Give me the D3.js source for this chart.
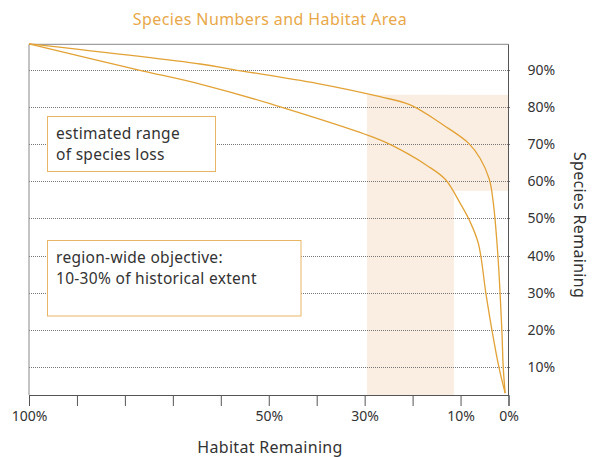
<!DOCTYPE html>
<html>
<head>
<meta charset="utf-8">
<script src="https://cdn.jsdelivr.net/npm/d3@7"></script>
<style>
  body { margin: 0; background: #fff; }
  svg { font-family: 'Noto Sans', 'Open Sans', sans-serif; }
</style>
</head>
<body>
<div class="js-chart"></div>
<script>
// habitat remaining (%) on x, species remaining (%) on y
var habitatTicks = [100, 90, 80, 70, 60, 50, 40, 30, 20, 10, 0];
var habitatLabels = ['100%', '', '', '', '', '50%', '', '30%', '', '10%', '0%'];
var speciesTicks = [10, 20, 30, 40, 50, 60, 70, 80, 90];

var upperHabitat = [100, 64.3, 57.4, 40.0, 26.8, 20.5, 13.6, 8.4, 5.9, 4.0, 3.2, 2.25, 1.4, 1.1, 0.7];
var upperSpecies = [96.9, 91.5, 90.0, 86.3, 82.7, 80.5, 75.1, 70.3, 66.1, 60.5, 54.5, 40.7, 20.3, 10, 3];

var lowerHabitat = [100, 77.5, 64.3, 49.4, 26.8, 20.5, 17.1, 13.2, 10.1, 8.2, 6.3, 4.7, 3.5, 2.0, 0.7];
var lowerSpecies = [96.9, 90.0, 86.1, 80.7, 71.1, 67.0, 64.3, 60.5, 54.1, 49.6, 43.3, 29.7, 20.3, 10, 3];

var objectiveRange = [29.5, 11.4]; // habitat
var lossRange = [57.4, 83.2];      // species

var chartTitle = 'Species Numbers and Habitat Area';
var xTitle = 'Habitat Remaining';
var yTitle = 'Species Remaining';
var notes = [
  ['estimated range', 'of species loss'],
  ['region-wide objective:', '10-30% of historical extent']
];

var orange = '#E2A236',
  band = '#FAEEE2',
  ink = '#333';

var width = 594, height = 457,
  plotLeft = 29, plotRight = 508.5, plotTop = 44.3, plotBottom = 395;

var x = d3.scaleLinear().domain([100, 0]).range([plotLeft, plotRight]);
var y = d3.scaleLinear().domain([2.5, 96.8]).range([plotBottom, plotTop]);

var svg = d3.select('.js-chart')
  .append('svg')
  .attr('width', width)
  .attr('height', height);

svg.append('text')
  .attr('x', 270)
  .attr('y', 25)
  .attr('text-anchor', 'middle')
  .attr('fill', '#E8A849')
  .style('font-size', '16px')
  .style('letter-spacing', '0.4px')
  .text(chartTitle);

// shaded regions
svg.append('rect')
  .attr('x', x(objectiveRange[0]))
  .attr('y', y(lossRange[1]))
  .attr('width', x(objectiveRange[1]) - x(objectiveRange[0]))
  .attr('height', plotBottom - y(lossRange[1]))
  .attr('fill', band);

svg.append('rect')
  .attr('x', x(objectiveRange[0]))
  .attr('y', y(lossRange[1]))
  .attr('width', x(0) - x(objectiveRange[0]))
  .attr('height', y(lossRange[0]) - y(lossRange[1]))
  .attr('fill', band);

// dotted grid
svg.selectAll('.grid')
  .data(speciesTicks)
  .enter()
  .append('line')
  .classed('grid', true)
  .attr('x1', plotLeft)
  .attr('x2', plotRight + 2)
  .attr('y1', function(d) { return Math.round(y(d)) + 0.5 })
  .attr('y2', function(d) { return Math.round(y(d)) + 0.5 })
  .attr('stroke', '#777')
  .attr('stroke-dasharray', '1,1');

// frame
svg.append('line')
  .attr('x1', plotLeft).attr('x2', plotRight)
  .attr('y1', plotTop).attr('y2', plotTop)
  .attr('stroke', '#888');
svg.append('line')
  .attr('x1', plotLeft).attr('x2', plotLeft)
  .attr('y1', plotTop).attr('y2', plotBottom)
  .attr('stroke', '#888');
svg.append('line')
  .attr('x1', plotRight).attr('x2', plotRight)
  .attr('y1', plotTop).attr('y2', plotBottom)
  .attr('stroke', '#555');

// annotation boxes
var boxes = [
  { x: 47.5, y: 116.5, w: 168, h: 55 },
  { x: 47.5, y: 240.5, w: 253.5, h: 75.5 }
];
notes.forEach(function(lines, i) {
  var b = boxes[i];
  svg.append('rect')
    .attr('x', b.x).attr('y', b.y)
    .attr('width', b.w).attr('height', b.h)
    .attr('fill', '#fff')
    .attr('stroke', '#E8B565');
  svg.append('text')
    .attr('fill', ink)
    .style('font-size', '15.5px')
    .style('letter-spacing', '0.3px')
    .selectAll('tspan')
    .data(lines)
    .enter()
    .append('tspan')
    .attr('x', b.x + 8.5)
    .attr('y', function(d, j) { return b.y + 22.5 + j * 21 })
    .text(function(d) { return d });
});

// curves
var line = d3.line()
  .x(function(d) { return x(d[0]) })
  .y(function(d) { return y(d[1]) })
  .curve(d3.curveCatmullRom.alpha(0.5));

[[upperHabitat, upperSpecies], [lowerHabitat, lowerSpecies]].forEach(function(s) {
  svg.append('path')
    .datum(d3.zip(s[0], s[1]))
    .attr('d', line)
    .attr('fill', 'none')
    .attr('stroke', orange)
    .attr('stroke-width', 1.3);
});

// x axis
var xAxis = svg.append('g')
  .attr('transform', 'translate(0,' + plotBottom + ')')
  .call(d3.axisBottom(x)
    .tickValues(habitatTicks)
    .tickSize(11)
    .tickPadding(5)
    .tickFormat(function(d, i) { return habitatLabels[i] }));
xAxis.select('.domain').attr('stroke', '#555');
xAxis.selectAll('.tick line').attr('stroke', '#555');
xAxis.selectAll('text')
  .attr('fill', ink)
  .style('font-family', "'Noto Sans', sans-serif")
  .style('font-size', '14px');

// y labels
var yAxis = svg.append('g')
  .attr('transform', 'translate(' + (plotRight + 6) + ',0)')
  .call(d3.axisRight(y)
    .tickValues(speciesTicks)
    .tickSize(0)
    .tickPadding(13)
    .tickFormat(function(d) { return d + '%' }));
yAxis.select('.domain').remove();
yAxis.selectAll('text')
  .attr('fill', ink)
  .style('font-family', "'Noto Sans', sans-serif")
  .style('font-size', '14px');

svg.append('text')
  .attr('x', 270)
  .attr('y', 453)
  .attr('text-anchor', 'middle')
  .attr('fill', ink)
  .style('font-size', '16px')
  .style('letter-spacing', '0.3px')
  .text(xTitle);

svg.append('text')
  .attr('transform', 'translate(574,225) rotate(90)')
  .attr('text-anchor', 'middle')
  .attr('fill', ink)
  .style('font-size', '16px')
  .style('letter-spacing', '0.3px')
  .text(yTitle);
</script>
</body>
</html>
